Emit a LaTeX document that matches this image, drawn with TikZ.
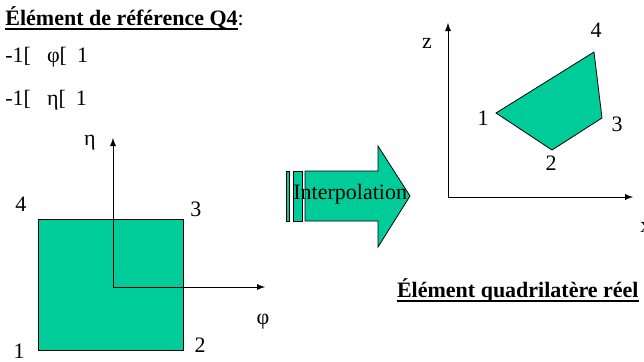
\documentclass[tikz,border=0pt]{standalone}
\usepackage{fontspec}
\setmainfont{Liberation Serif}
\usepackage{xcolor}
\usetikzlibrary{arrows}
\definecolor{vertQ}{RGB}{0,204,153}
\newcommand\souligne[1]{\setbox0\hbox{#1}\rlap{\vrule height -1.3pt depth 2.4pt width \wd0}\box0}

\begin{document}
\begin{tikzpicture}[x=0.5pt,y=-0.5pt,>=latex,font=\fontsize{11}{13}\selectfont]
			\useasboundingbox (0,0) rectangle (644,361);
			\tikzset{texte/.style={inner sep=0pt,anchor=west},
				elem/.style={draw,fill=vertQ}}
			
			% élément de référence
			\begin{scope}
				\node[texte] (titreref) at (5,18) {\souligne{\textbf{Élément de référence Q4}}:};
				\node[texte] (bornephi) at (5,57) {-1[\hspace{8pt}φ[\hspace{5pt}1};
				\node[texte] (borneeta) at (5,100) {-1[\hspace{8pt}η[\hspace{5pt}1};
				\draw[elem] (38,219) rectangle (183,350);
				\coordinate (oref) at (113,287);
				\coordinate (etaref) at (113,138);
				\coordinate (phiref) at (265,287);
				\draw[->] (oref)--(etaref);
				\draw[->] (oref)--(phiref);
				\node (leta) at (90,143) {η};
				\node (lphi) at (263,322) {φ};
				\node (r1) at (19,351) {1};
				\node (r2) at (200,345) {2};
				\node (r3) at (196,209) {3};
				\node (r4) at (21,204) {4};
			\end{scope}
			
			% flèche
			\begin{scope}
				\draw[elem] (286,171) rectangle (289,221);
				\draw[elem] (293,171) rectangle (302,221);
				\draw[elem] (305,171)--(378,171)--(378,146)--(410,196)--(378,247)--(378,221)--(305,221)--cycle;
				\node[texte] (interp) at (293,194) {Interpolation};
			\end{scope}
			
			% élément réel
			\begin{scope}
				\coordinate (oreel) at (448,197);
				\coordinate (zreel) at (448,23);
				\coordinate (xreel) at (633,197);
				\draw[->] (oreel)--(zreel);
				\draw[->] (oreel)--(xreel);
				\node (lz) at (427,43) {z};
				\node[texte] (lx) at (640,227) {x};
				\coordinate (q1) at (496,113);
				\coordinate (q2) at (552,150);
				\coordinate (q3) at (602,118);
				\coordinate (q4) at (594,52);
				\draw[elem] (q1)--(q2)--(q3)--(q4)--cycle;
				\node (p1) at (483,118) {1};
				\node (p2) at (551,163) {2};
				\node (p3) at (617,124) {3};
				\node (p4) at (596,30) {4};
				\node[texte,anchor=east] (titrereel) at (639,290) {\souligne{\textbf{Élément quadrilatère réel}}};
			\end{scope}
			
		\end{tikzpicture}
\end{document}
